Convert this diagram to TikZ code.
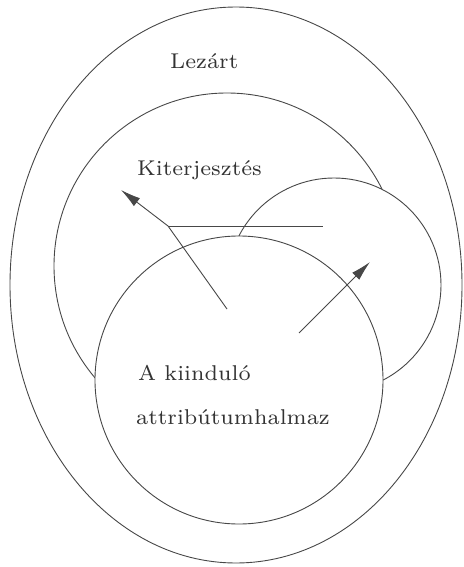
\documentclass[tikz,border=0pt]{standalone}
\usepackage{fontspec}
\setmainfont{lmroman7-regular.otf}
\usetikzlibrary{arrows.meta}
\begin{document}
\begin{tikzpicture}[x=1pt,y=-1pt,
  setline/.style={draw=black!72, line width=0.9pt},
  arr/.style={setline, -{Latex[length=20pt,width=10pt]}},
  lbl/.style={inner sep=0pt, anchor=base west, text=black!80, font=\fontsize{21.4}{26}\selectfont}]
\useasboundingbox (0,0) rectangle (463,567);
% outer ellipse (Lezárt)
\draw[setline] (236,285) ellipse[x radius=226pt, y radius=278pt];
% middle circle (Kiterjesztés)
\draw[setline] (227,266) circle[radius=173pt];
% small circle
\draw[setline, fill=white] (334,285) circle[radius=107pt];
% big circle (A kiinduló attribútumhalmaz)
\draw[setline, fill=white] (239,380) circle[radius=144pt];
% connectors
\coordinate (tailL) at (227,309);
\coordinate (bend) at (168,226);
\coordinate (tipL) at (121,190);
\coordinate (lineR) at (323,226);
\coordinate (tailR) at (299,333);
\coordinate (tipR) at (370,262);
\draw[setline] (bend) -- (lineR);
\draw[arr] (tailL) -- (bend) -- (tipL);
\draw[arr] (tailR) -- (tipR);
% labels
\node[lbl] (lez) at (170,69) {Lezárt};
\node[lbl] (kit) at (137,175) {Kiterjesztés};
\node[lbl] (kii) at (138,380) {A kiinduló};
\node[lbl] (att) at (136,424) {attribútumhalmaz};
\end{tikzpicture}
\end{document}
